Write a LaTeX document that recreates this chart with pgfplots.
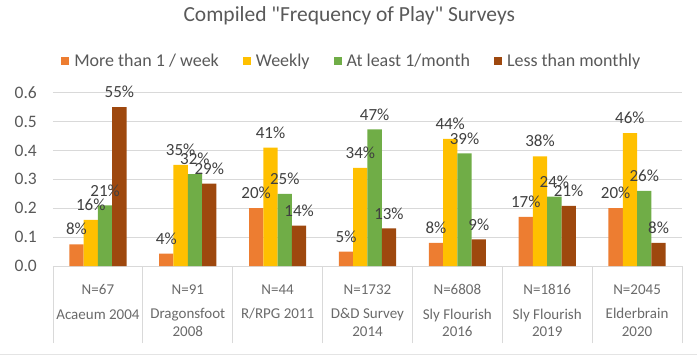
\documentclass[border=0pt]{standalone}
\usepackage{pgfplots}
\pgfplotsset{compat=1.18}
\usepackage{pgfplotstable}
\usepackage{fontspec}
\setmainfont{Carlito}[Ligatures=TeXOff]
\definecolor{cA}{HTML}{ED7D31}
\definecolor{cB}{HTML}{FFC000}
\definecolor{cC}{HTML}{70AD47}
\definecolor{cD}{HTML}{9E480E}
\definecolor{txt}{HTML}{595959}
\definecolor{lbl}{HTML}{404040}
\definecolor{grd}{HTML}{D9D9D9}
\pgfplotstableread{
x a b c d la lb lc ld
0 0.075 0.16 0.21 0.55 8 16 21 55
1 0.043 0.35 0.318 0.285 4 35 32 29
2 0.20 0.41 0.25 0.14 20 41 25 14
3 0.05 0.34 0.473 0.13 5 34 47 13
4 0.08 0.44 0.39 0.092 8 44 39 9
5 0.17 0.38 0.24 0.208 17 38 24 21
6 0.20 0.46 0.26 0.08 20 46 26 8
}\data
\begin{document}
\begin{tikzpicture}
\path[use as bounding box] (0,0) rectangle (697pt,357pt);
\draw[grd!70, line width=0.8pt] (0,3pt) -- (697pt,3pt);
\begin{axis}[
  at={(53pt,91pt)}, anchor=south west,
  scale only axis, width=629pt, height=173.3pt,
  xmin=-0.5, xmax=6.5, ymin=0, ymax=0.6,
  ybar=0pt, bar width=14.3pt,
  axis line style={draw=none},
  ymajorgrids, grid style={grd, line width=0.8pt},
  ytick={0,0.1,0.2,0.3,0.4,0.5,0.6},
  /pgf/number format/assume math mode=true,
  yticklabel style={/pgf/number format/.cd, fixed, fixed zerofill, precision=1, /tikz/.cd,
    font=\fontsize{17.5}{20}\selectfont, text=txt, anchor=east, inner sep=0pt, xshift=-16pt},
  xtick={0,1,2,3,4,5,6},
  xticklabels={
    {N=67\\[7pt]Acaeum 2004},
    {N=91\\[7pt]Dragonsfoot\\2008},
    {N=44\\[7pt]R/RPG 2011},
    {N=1732\\[7pt]D\&D Survey\\2014},
    {N=6808\\[7pt]Sly Flourish\\2016},
    {N=1816\\[7pt]Sly Flourish\\2019},
    {N=2045\\[7pt]Elderbrain\\2020}},
  xticklabel style={font=\fontsize{15}{17.5}\selectfont, text=txt!90, align=center, anchor=north, inner sep=0pt, yshift=-14pt},
  tick style={draw=none},
  xtick pos=bottom, ytick pos=left,
  extra x ticks={-0.5,0.5,1.5,2.5,3.5,4.5,5.5,6.5},
  extra x tick labels={},
  extra x tick style={grid=none, tick align=outside, major tick length=77pt,
    tick style={draw=grd, line width=0.8pt}},
  point meta=explicit symbolic,
  nodes near coords={\pgfplotspointmeta\%},
  nodes near coords style={font=\fontsize{17}{20}\selectfont, text=lbl, anchor=south, inner sep=0pt, yshift=9pt},
  legend image code/.code={\fill[#1] (0pt,-4pt) rectangle (8pt,4pt); \path (11pt,0pt);},
  legend style={at={(0.475,1.183)}, anchor=center, draw=none, fill=none,
    font=\fontsize{18}{20}\selectfont, text=txt, legend columns=4,
    /tikz/every even column/.append style={column sep=22pt}},
  legend cell align=left,
  title={Compiled "Frequency of Play" Surveys},
  title style={at={(0.471,1.408)}, anchor=center, font=\fontsize{21.5}{24}\selectfont, text=txt, inner sep=0pt},
]
\addplot[fill=cA, draw=none] table[x=x, y=a, meta=la] {\data};
\addplot[fill=cB, draw=none] table[x=x, y=b, meta=lb] {\data};
\addplot[fill=cC, draw=none] table[x=x, y=c, meta=lc] {\data};
\addplot[fill=cD, draw=none] table[x=x, y=d, meta=ld] {\data};
\legend{More than 1 / week, Weekly, At least 1/month, Less than monthly}
\end{axis}
\end{tikzpicture}
\end{document}
